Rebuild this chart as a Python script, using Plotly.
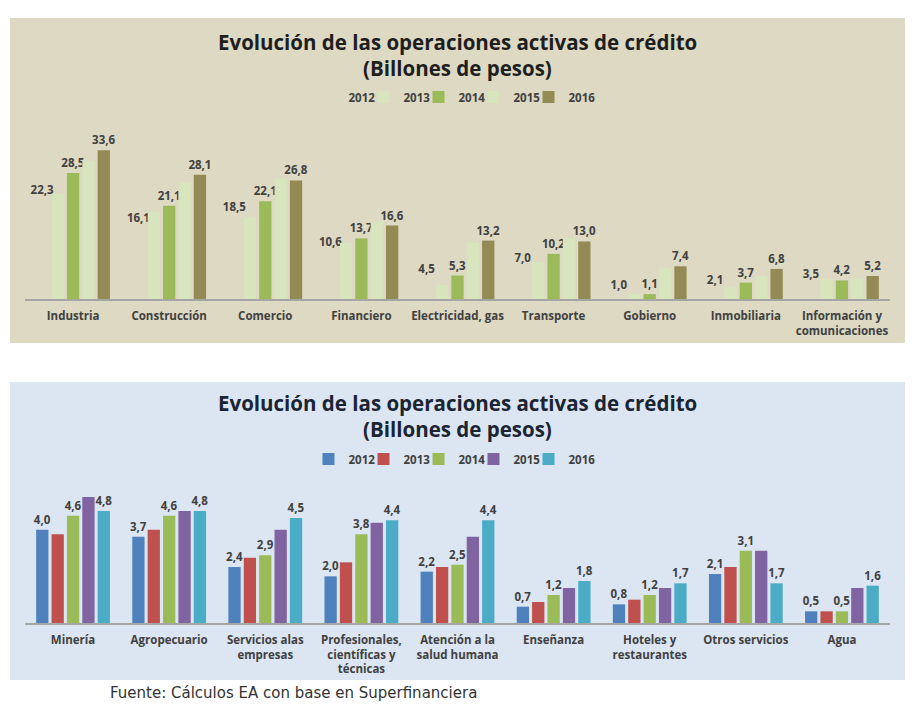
import plotly.graph_objects as go

years = ["2012", "2013", "2014", "2015", "2016"]

# Top chart
top_categories = ["Industria", "Construcción", "Comercio", "Financiero", "Electricidad, gas",
                  "Transporte", "Gobierno", "Inmobiliaria", "Información y<br>comunicaciones"]
top_2012 = [22.3, 16.1, 18.5, 10.6, 4.5, 7.0, 1.0, 2.1, 3.5]
top_2013 = [23.8, 19.7, 18.5, 12.7, 3.2, 8.4, 1.1, 2.7, 4.5]
top_2014 = [28.5, 21.1, 22.1, 13.7, 5.3, 10.2, 1.1, 3.7, 4.2]
top_2015 = [31.2, 26.4, 27.2, 17.5, 12.7, 13.8, 7.0, 5.2, 4.5]
top_2016 = [33.6, 28.1, 26.8, 16.6, 13.2, 13.0, 7.4, 6.8, 5.2]
top_series = [top_2012, top_2013, top_2014, top_2015, top_2016]
top_colors = ["#DDD9C3", "#D7E4BD", "#9BBB59", "#D7E4BD", "#948A54"]
top_labeled = [True, False, True, False, True]

# Bottom chart
bot_categories = ["Minería", "Agropecuario", "Servicios alas<br>empresas",
                  "Profesionales,<br>científicas y<br>técnicas", "Atención a la<br>salud humana",
                  "Enseñanza", "Hoteles y<br>restaurantes", "Otros servicios", "Agua"]
bot_2012 = [4.0, 3.7, 2.4, 2.0, 2.2, 0.7, 0.8, 2.1, 0.5]
bot_2013 = [3.8, 4.0, 2.8, 2.6, 2.4, 0.9, 1.0, 2.4, 0.5]
bot_2014 = [4.6, 4.6, 2.9, 3.8, 2.5, 1.2, 1.2, 3.1, 0.5]
bot_2015 = [5.4, 4.8, 4.0, 4.3, 3.7, 1.5, 1.5, 3.1, 1.5]
bot_2016 = [4.8, 4.8, 4.5, 4.4, 4.4, 1.8, 1.7, 1.7, 1.6]
bot_series = [bot_2012, bot_2013, bot_2014, bot_2015, bot_2016]
bot_colors = ["#4F81BD", "#C0504D", "#9BBB59", "#8064A2", "#4BACC6"]
bot_labeled = [True, False, True, False, True]

# page has an 8px body margin: figure is placed at (8, 8)
OFF = 8
W, H = 905, 696
FONT = "Open Sans"
TXT = "#404040"
LBL = 11.5


def px_x(v):
    return (v - OFF) / W


def px_y(v):
    return 1 - (v - OFF) / H


fig = go.Figure()

for i, (yr, vals, col, lab) in enumerate(zip(years, top_series, top_colors, top_labeled)):
    fig.add_trace(go.Bar(
        x=top_categories, y=vals, name=yr, marker=dict(color=col, line=dict(width=0)),
        texttemplate="%{y:.1f}" if lab else None, textposition="outside" if lab else "none",
        constraintext="none",
        textfont=dict(family=FONT, size=LBL, color=TXT, weight="bold"),
        legendwidth=32 if i == len(years) - 1 else None,
        cliponaxis=False, xaxis="x", yaxis="y", legend="legend", hoverinfo="x+y+name",
    ))

for i, (yr, vals, col, lab) in enumerate(zip(years, bot_series, bot_colors, bot_labeled)):
    fig.add_trace(go.Bar(
        x=bot_categories, y=vals, name=yr, marker=dict(color=col, line=dict(width=0)),
        texttemplate="%{y:.1f}" if lab else None, textposition="outside" if lab else "none",
        constraintext="none",
        textfont=dict(family=FONT, size=LBL, color=TXT, weight="bold"),
        legendwidth=32 if i == len(years) - 1 else None,
        cliponaxis=False, xaxis="x2", yaxis="y2", legend="legend2", hoverinfo="x+y+name",
    ))

xdom = [px_x(25), px_x(890)]
axis_common = dict(
    showline=True, linecolor="#A6A6A6", linewidth=1.5, showgrid=False, zeroline=False,
    ticks="", tickfont=dict(family=FONT, size=11.5, color=TXT, weight="bold"),
    ticklabelstandoff=5,
)
legend_common = dict(orientation="h", x=px_x(457), xanchor="center", yanchor="middle",
                     bgcolor="rgba(0,0,0,0)", itemclick=False,
                     font=dict(family=FONT, size=11.5, color=TXT, weight="bold"),
                     entrywidth=10, entrywidthmode="pixels")
TITLE_SIZE = 20.5
fig.update_layout(
    width=W, height=H, margin=dict(l=0, r=0, t=0, b=0),
    paper_bgcolor="white", plot_bgcolor="white",
    separators=",.",
    barmode="group", bargap=0.2, bargroupgap=0.2,
    font=dict(family=FONT, color=TXT),
    xaxis=dict(domain=xdom, anchor="y", **axis_common),
    yaxis=dict(domain=[px_y(299), px_y(122)], range=[0, 40], visible=False, anchor="x"),
    xaxis2=dict(domain=xdom, anchor="y2", **axis_common),
    yaxis2=dict(domain=[px_y(623), px_y(483)], range=[0, 6], visible=False, anchor="x2"),
    legend=dict(y=px_y(97), **legend_common),
    legend2=dict(y=px_y(459), **legend_common),
    shapes=[
        dict(type="rect", xref="paper", yref="paper", layer="below",
             x0=px_x(10), x1=px_x(905), y0=px_y(343), y1=px_y(18),
             fillcolor="#DDD9C3", line=dict(width=0)),
        dict(type="rect", xref="paper", yref="paper", layer="below",
             x0=px_x(10), x1=px_x(905), y0=px_y(680), y1=px_y(382),
             fillcolor="#DCE6F2", line=dict(width=0)),
    ],
    annotations=[
        dict(text="Evolución de las operaciones activas de crédito",
             xref="paper", yref="paper", x=px_x(457), y=px_y(42), showarrow=False,
             xanchor="center", yanchor="middle",
             font=dict(family=FONT, size=TITLE_SIZE, color="#1E1E1E", weight="bold")),
        dict(text="(Billones de pesos)",
             xref="paper", yref="paper", x=px_x(457), y=px_y(68), showarrow=False,
             xanchor="center", yanchor="middle",
             font=dict(family=FONT, size=TITLE_SIZE, color="#1E1E1E", weight="bold")),
        dict(text="Evolución de las operaciones activas de crédito",
             xref="paper", yref="paper", x=px_x(457), y=px_y(403), showarrow=False,
             xanchor="center", yanchor="middle",
             font=dict(family=FONT, size=TITLE_SIZE, color="#1A2433", weight="bold")),
        dict(text="(Billones de pesos)",
             xref="paper", yref="paper", x=px_x(457), y=px_y(429), showarrow=False,
             xanchor="center", yanchor="middle",
             font=dict(family=FONT, size=TITLE_SIZE, color="#1A2433", weight="bold")),
        dict(text="Fuente: Cálculos EA con base en Superfinanciera",
             xref="paper", yref="paper", x=px_x(108), y=0, showarrow=False,
             xanchor="left", yanchor="bottom",
             font=dict(family="DejaVu Sans", size=15, color="#333333")),
    ],
)

fig.write_html("out.html")
